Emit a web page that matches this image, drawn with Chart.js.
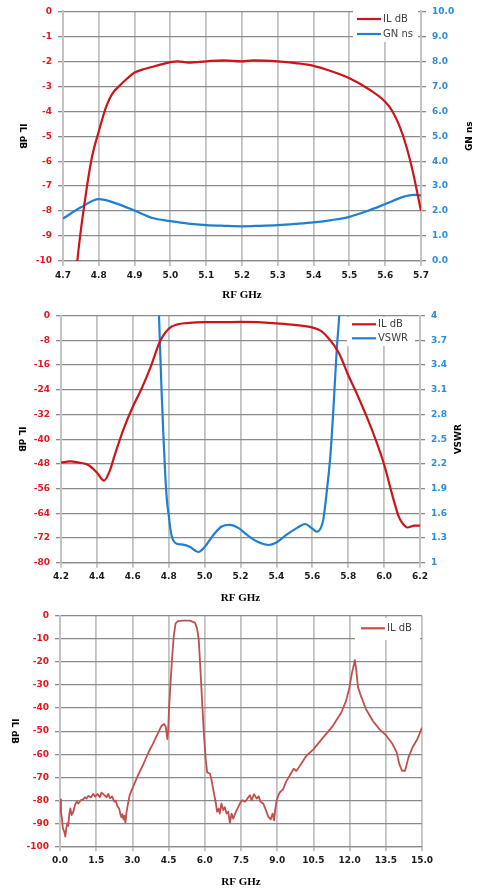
<!DOCTYPE html>
<html>
<head>
<meta charset="utf-8">
<script src="https://cdn.jsdelivr.net/npm/chart.js@4.4.1/dist/chart.umd.min.js"></script>
<style>
  html,body{margin:0;padding:0;background:#fff;width:481px;height:891px;overflow:hidden;}
  .box{position:absolute;left:0;width:481px;}
  canvas{display:block;}
</style>
</head>
<body>
<div class="box" style="top:0;height:300px"><canvas id="k1" width="481" height="300"></canvas></div>
<div class="box" style="top:300px;height:305px"><canvas id="k2" width="481" height="305"></canvas></div>
<div class="box" style="top:600px;height:291px"><canvas id="k3" width="481" height="291"></canvas></div>
<script>
// ---------- Chart 1 data (IL dB / group delay ns vs RF GHz) ----------
const c1XTicks = ['4.7','4.8','4.9','5.0','5.1','5.2','5.3','5.4','5.5','5.6','5.7'];
const c1ILTicks = ['-10','-9','-8','-7','-6','-5','-4','-3','-2','-1','0'];
const c1GNTicks = ['0.0','1.0','2.0','3.0','4.0','5.0','6.0','7.0','8.0','9.0','10.0'];
const c1ILFreq = [4.72,4.74,4.76,4.78,4.80,4.81,4.82,4.83,4.84,4.86,4.88,4.90,4.93,4.96,5.00,5.02,5.05,5.10,5.15,5.20,5.23,5.30,5.35,5.40,5.45,5.50,5.55,5.60,5.62,5.64,5.66,5.68,5.70];
const c1ILdB   = [-13.5,-10.0,-7.7,-5.9,-4.8,-4.3,-3.85,-3.5,-3.25,-2.95,-2.68,-2.45,-2.3,-2.18,-2.03,-2.0,-2.05,-2.0,-1.96,-2.0,-1.96,-2.0,-2.07,-2.18,-2.4,-2.68,-3.08,-3.62,-4.0,-4.6,-5.45,-6.6,-8.0];
const c1GNFreq = [4.70,4.75,4.80,4.85,4.90,4.95,5.00,5.05,5.10,5.15,5.20,5.25,5.30,5.35,5.40,5.45,5.50,5.55,5.60,5.65,5.68,5.70];
const c1GNns   = [1.7,2.15,2.48,2.3,2.02,1.72,1.6,1.5,1.44,1.41,1.39,1.41,1.44,1.49,1.55,1.64,1.77,2.0,2.28,2.57,2.65,2.63];

// ---------- Chart 2 data (IL dB / VSWR vs RF GHz) ----------
const c2XTicks = ['4.2','4.4','4.6','4.8','5.0','5.2','5.4','5.6','5.8','6.0','6.2'];
const c2ILTicks = ['-80','-72','-64','-56','-48','-40','-32','-24','-16','-8','0'];
const c2VSWRTicks = ['1','1.3','1.6','1.9','2.2','2.5','2.8','3.1','3.4','3.7','4'];
const c2ILFreq = [4.20,4.25,4.30,4.35,4.40,4.44,4.47,4.50,4.55,4.60,4.65,4.70,4.75,4.80,4.85,4.90,5.00,5.10,5.20,5.30,5.40,5.50,5.60,5.65,5.70,5.75,5.80,5.85,5.90,5.95,6.00,6.05,6.08,6.10,6.13,6.17,6.20];
const c2ILdB   = [-47.6,-47.2,-47.6,-48.3,-50.8,-53.4,-50.5,-45,-36.5,-29.5,-23.5,-16.5,-8.5,-4.2,-2.8,-2.4,-2.1,-2.1,-2.0,-2.1,-2.5,-3.0,-3.8,-5.0,-8.0,-12.3,-19.2,-25.5,-32.3,-39.7,-48.2,-59,-64.8,-67,-68.6,-68.0,-68.0];
const c2VSFreq = [4.73,4.746,4.76,4.77,4.78,4.79,4.80,4.81,4.82,4.845,4.88,4.92,4.965,5.00,5.05,5.095,5.14,5.19,5.235,5.29,5.355,5.40,5.457,5.513,5.56,5.597,5.625,5.647,5.661,5.671,5.685,5.70,5.717,5.736,5.75,5.765];
const c2VSWR   = [5.0,4.0,3.1,2.57,2.1,1.76,1.58,1.4,1.3,1.23,1.22,1.19,1.13,1.19,1.34,1.44,1.46,1.42,1.34,1.26,1.215,1.245,1.34,1.42,1.47,1.42,1.376,1.42,1.52,1.68,1.95,2.28,2.85,3.58,4.0,4.6];

// ---------- Chart 3 data (wideband IL dB vs RF GHz) ----------
const c3XTicks = ['0.0','1.5','3.0','4.5','6.0','7.5','9.0','10.5','12.0','13.5','15.0'];
const c3ILTicks = ['-100','-90','-80','-70','-60','-50','-40','-30','-20','-10','0'];
const c3Freq = [0.00,0.04,0.08,0.12,0.18,0.22,0.26,0.30,0.34,0.39,0.43,0.48,0.55,0.62,0.69,0.76,0.87,0.96,1.03,1.10,1.17,1.28,1.38,1.45,1.56,1.65,1.72,1.83,1.93,2.00,2.07,2.16,2.25,2.31,2.38,2.45,2.51,2.55,2.59,2.63,2.67,2.71,2.75,2.82,2.89,3.03,3.24,3.44,3.65,3.86,4.06,4.20,4.31,4.38,4.45,4.48,4.52,4.57,4.64,4.71,4.79,4.89,5.10,5.37,5.59,5.68,5.75,5.82,5.90,5.97,6.04,6.10,6.21,6.28,6.38,6.46,6.51,6.57,6.62,6.69,6.76,6.83,6.90,6.97,7.04,7.11,7.18,7.25,7.32,7.39,7.49,7.57,7.67,7.76,7.87,7.94,8.04,8.15,8.23,8.31,8.42,8.53,8.63,8.73,8.81,8.87,8.92,8.98,9.05,9.12,9.24,9.38,9.51,9.68,9.79,9.93,10.2,10.5,10.89,11.3,11.65,11.85,11.99,12.10,12.22,12.27,12.35,12.47,12.68,12.96,13.23,13.50,13.78,13.95,14.06,14.17,14.30,14.44,14.61,14.81,15.00];
const c3ILdB = [-79.6,-85,-88,-92.2,-93.7,-95.8,-92.2,-90,-91.1,-85.7,-83.5,-86.4,-85,-82.1,-80.6,-81.4,-79.9,-79.6,-78.7,-79.3,-78.1,-78.7,-77.3,-78.4,-77.3,-78.7,-76.7,-77.7,-78.7,-77.3,-79.1,-78.4,-80.6,-80.2,-82.7,-83.5,-86.4,-87.4,-86,-88.3,-86.8,-89.7,-85.7,-81.4,-77.7,-74.1,-69,-64.7,-59.6,-55.3,-50.9,-47.8,-46.9,-48,-53.5,-50,-40,-30.7,-19,-9,-3.2,-2.2,-2.0,-2.0,-2.9,-5.4,-10.4,-23.4,-39.4,-52.4,-62.6,-67.9,-68.4,-71.2,-77,-81.4,-85,-83.6,-85.8,-81.4,-84.3,-83,-85.8,-85,-89.8,-85.8,-88,-86,-84.3,-82.9,-80.7,-80,-80.7,-79.3,-77.8,-80,-77.4,-79.3,-78.3,-80.7,-81.4,-84.3,-87.1,-88.3,-85.8,-88.7,-84,-80,-77.8,-76.4,-75.3,-71.7,-69.5,-66.3,-67.3,-65.2,-60.8,-57.9,-52.9,-47.8,-42,-37,-31.2,-24.6,-19.2,-23.1,-31,-34.7,-40.5,-45.5,-49.1,-51.7,-55.6,-59.2,-64.3,-67.2,-67.2,-61.4,-57,-53.4,-48.5];

// ---------- styling ----------
const FONT = 'DejaVu Sans';
const H_GRID = '#8a8a8a', V_GRID = '#c2c2c2';
const RED = '#cc1419', BLUE = '#1f80d2', BROWN = '#c0504d';
const RED_TXT = '#e3171d', BLUE_TXT = '#2a8ddc';
const tickFont = {family: FONT, size: 9, weight: 'bold'};

const pts = (xs, ys) => xs.map((x, i) => ({x, y: ys[i]}));
const useTicks = labels => s => { s.ticks = labels.map(l => ({value: Number(l)})); };

function xAxis(labels, h) {
  const v = labels.map(Number);
  return {
    type: 'linear', position: 'bottom', min: Math.min(...v), max: Math.max(...v),
    afterBuildTicks: useTicks(labels), afterFit: s => { s.height = h; },
    grid: {color: V_GRID, lineWidth: 1.8, tickLength: 5},
    border: {color: H_GRID, width: 1.3},
    ticks: {autoSkip: false, maxRotation: 0, padding: 4, color: '#1a1a1a', font: tickFont,
            callback: (val, i) => labels[i]}
  };
}
function yAxis(pos, labels, color, w, onArea) {
  const v = labels.map(Number);
  return {
    type: 'linear', position: pos, min: Math.min(...v), max: Math.max(...v),
    afterBuildTicks: useTicks(labels), afterFit: s => { s.width = w; },
    grid: {drawOnChartArea: onArea, color: H_GRID, lineWidth: 1.3, tickLength: 5},
    border: {color: V_GRID, width: 1.8},
    ticks: {autoSkip: false, padding: 6, color, font: tickFont, callback: (val, i) => labels[i]}
  };
}

const deco = {
  id: 'deco',
  afterDatasetsDraw(chart, args, o) {
    const ctx = chart.ctx, a = chart.chartArea;
    ctx.save();
    const L = o.legend;
    ctx.fillStyle = '#fff';
    ctx.fillRect(L.x, L.y, L.w, L.h);
    chart.data.datasets.forEach((ds, i) => {
      const y = L.rows[i];
      ctx.strokeStyle = ds.borderColor; ctx.lineWidth = 2.2;
      ctx.beginPath(); ctx.moveTo(L.sx, y); ctx.lineTo(L.sx + 24, y); ctx.stroke();
      ctx.fillStyle = '#404040'; ctx.font = '10px "' + FONT + '"';
      ctx.textAlign = 'left'; ctx.textBaseline = 'middle';
      ctx.fillText(ds.label, L.sx + 26, y + 0.5);
    });
    const cy = (a.top + a.bottom) / 2;
    ctx.fillStyle = '#000';
    ctx.textAlign = 'center'; ctx.textBaseline = 'middle';
    o.titles.forEach(t => {
      ctx.save();
      ctx.translate(t.x, cy);
      ctx.rotate(t.rot * Math.PI / 2);
      ctx.font = 'bold 9px "' + FONT + '"';
      ctx.fillText(t.text, 0, 0);
      ctx.restore();
    });
    ctx.font = 'bold 11px "Liberation Serif"';
    ctx.fillText(o.xTitle.text, (a.left + a.right) / 2, o.xTitle.y);
    ctx.restore();
  }
};

const base = (pad) => ({
  responsive: false, animation: false,
  layout: {padding: pad},
  plugins: {legend: {display: false}, tooltip: {enabled: false}}
});

// ---------- Chart 1 ----------
const o1 = base({top: 9, left: 0, right: 0, bottom: 0});
o1.scales = {
  x: xAxis(c1XTicks, 39),
  y: yAxis('left', c1ILTicks, RED_TXT, 63, true),
  y1: yAxis('right', c1GNTicks, BLUE_TXT, 60, false)
};
o1.plugins.deco = {
  legend: {x: 353, y: 11, w: 65, h: 31, rows: [19, 34], sx: 357},
  titles: [{text: 'IL dB', x: 22.5, rot: 1}, {text: 'GN ns', x: 469.5, rot: -1}],
  xTitle: {text: 'RF GHz', y: 295}
};
new Chart(document.getElementById('k1'), {
  type: 'line',
  data: {datasets: [
    {label: 'IL dB', data: pts(c1ILFreq, c1ILdB), yAxisID: 'y', borderColor: RED, borderWidth: 2.2, pointRadius: 0, cubicInterpolationMode: 'monotone'},
    {label: 'GN ns', data: pts(c1GNFreq, c1GNns), yAxisID: 'y1', borderColor: BLUE, borderWidth: 2.2, pointRadius: 0, cubicInterpolationMode: 'monotone'}
  ]},
  options: o1, plugins: [deco]
});

// ---------- Chart 2 ----------
const o2 = base({top: 15.7, left: 0, right: 0, bottom: 0});
o2.scales = {
  x: xAxis(c2XTicks, 42.3),
  y: yAxis('left', c2ILTicks, RED_TXT, 61, true),
  y1: yAxis('right', c2VSWRTicks, BLUE_TXT, 61, false)
};
o2.plugins.deco = {
  legend: {x: 347, y: 17, w: 68, h: 29, rows: [24.3, 38.3], sx: 352},
  titles: [{text: 'IL dB', x: 21, rot: 1}, {text: 'VSWR', x: 459, rot: -1}],
  xTitle: {text: 'RF GHz', y: 298}
};
new Chart(document.getElementById('k2'), {
  type: 'line',
  data: {datasets: [
    {label: 'IL dB', data: pts(c2ILFreq, c2ILdB), yAxisID: 'y', borderColor: RED, borderWidth: 2.2, pointRadius: 0, cubicInterpolationMode: 'monotone'},
    {label: 'VSWR', data: pts(c2VSFreq, c2VSWR), yAxisID: 'y1', borderColor: BLUE, borderWidth: 2.2, pointRadius: 0, cubicInterpolationMode: 'monotone'}
  ]},
  options: o2, plugins: [deco]
});

// ---------- Chart 3 ----------
const o3 = base({top: 16, left: 0, right: 59, bottom: 0});
o3.scales = {
  x: xAxis(c3XTicks, 44.7),
  y: yAxis('left', c3ILTicks, RED_TXT, 60, true)
};
o3.plugins.deco = {
  legend: {x: 355, y: 18, w: 65, h: 22, rows: [28.3], sx: 361},
  titles: [{text: 'IL dB', x: 14, rot: 1}],
  xTitle: {text: 'RF GHz', y: 281.7}
};
new Chart(document.getElementById('k3'), {
  type: 'line',
  data: {datasets: [
    {label: 'IL dB', data: pts(c3Freq, c3ILdB), yAxisID: 'y', borderColor: BROWN, borderWidth: 1.8, pointRadius: 0, tension: 0, borderJoinStyle: 'round'}
  ]},
  options: o3, plugins: [deco]
});
</script>
</body>
</html>
